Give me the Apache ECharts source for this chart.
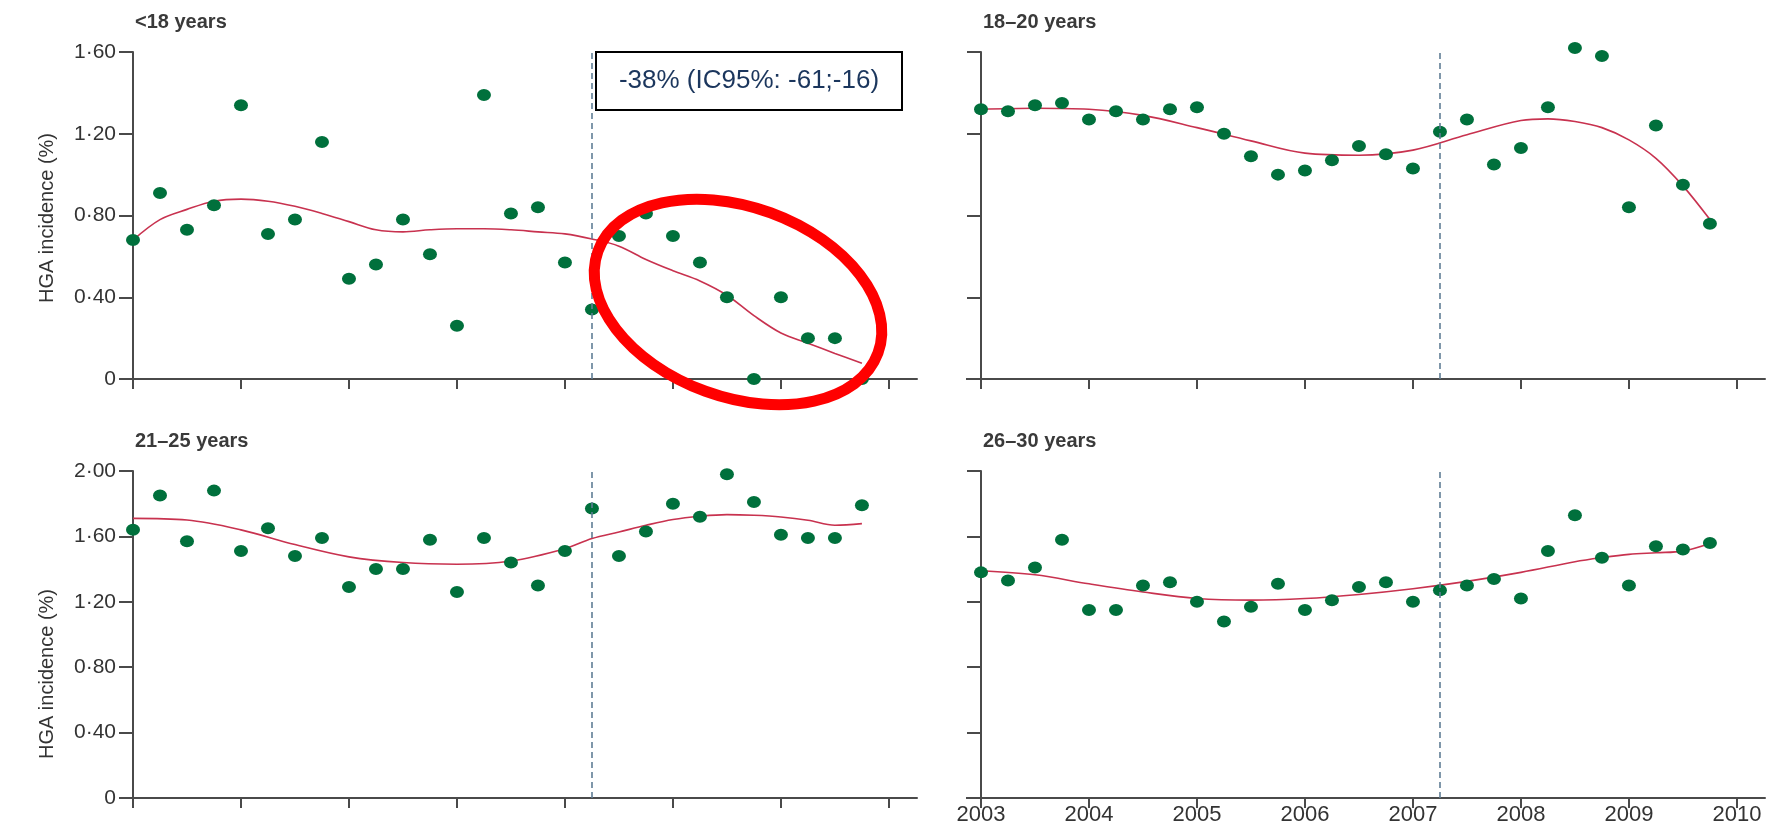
<!DOCTYPE html>
<html>
<head>
<meta charset="utf-8">
<script src="https://cdn.jsdelivr.net/npm/echarts@6/dist/echarts.min.js"></script>
<style>
html,body{margin:0;padding:0;background:#fff;}
#chart{width:1766px;height:828px;}
</style>
</head>
<body>
<div id="chart"></div>
<script>
// ---- Data ----
const quarters = [2003, 2003.25, 2003.5, 2003.75, 2004, 2004.25, 2004.5, 2004.75,
  2005, 2005.25, 2005.5, 2005.75, 2006, 2006.25, 2006.5, 2006.75,
  2007, 2007.25, 2007.5, 2007.75, 2008, 2008.25, 2008.5, 2008.75,
  2009, 2009.25, 2009.5, 2009.75];
const yearTicks = [2003, 2004, 2005, 2006, 2007, 2008, 2009, 2010];
const interventionX = 2007.25;

const panelTitles = ['<18 years', '18\u201320 years', '21\u201325 years', '26\u201330 years'];

const under18 = [0.68, 0.91, 0.73, 0.85, 1.34, 0.71, 0.78, 1.16, 0.49, 0.56, 0.78, 0.61, 0.26, 1.39,
  0.81, 0.84, 0.57, 0.34, 0.70, 0.81, 0.70, 0.57, 0.40, 0.00, 0.40, 0.20, 0.20, 0.00];
const age18to20 = [1.32, 1.31, 1.34, 1.35, 1.27, 1.31, 1.27, 1.32, 1.33, 1.20, 1.09, 1.00, 1.02, 1.07,
  1.14, 1.10, 1.03, 1.21, 1.27, 1.05, 1.13, 1.33, 1.62, 1.58, 0.84, 1.24, 0.95, 0.76];
const age21to25 = [1.64, 1.85, 1.57, 1.88, 1.51, 1.65, 1.48, 1.59, 1.29, 1.40, 1.40, 1.58, 1.26, 1.59,
  1.44, 1.30, 1.51, 1.77, 1.48, 1.63, 1.80, 1.72, 1.98, 1.81, 1.61, 1.59, 1.59, 1.79];
const age26to30 = [1.38, 1.33, 1.41, 1.58, 1.15, 1.15, 1.30, 1.32, 1.20, 1.08, 1.17, 1.31, 1.15, 1.21,
  1.29, 1.32, 1.20, 1.27, 1.30, 1.34, 1.22, 1.51, 1.73, 1.47, 1.30, 1.54, 1.52, 1.56];

// smoothed trend curves [year, value]
const trendUnder18 = [[2003,0.68],[2003.25,0.78],[2003.5,0.83],[2003.75,0.87],[2004,0.88],[2004.25,0.87],
  [2004.5,0.845],[2004.75,0.81],[2005,0.77],[2005.25,0.73],[2005.5,0.72],[2005.75,0.73],[2006,0.735],
  [2006.25,0.735],[2006.5,0.73],[2006.75,0.72],[2007,0.71],[2007.25,0.685],[2007.5,0.65],[2007.75,0.585],
  [2008,0.53],[2008.25,0.48],[2008.5,0.41],[2008.75,0.31],[2009,0.225],[2009.25,0.175],[2009.5,0.125],[2009.75,0.077]];
const trend18to20 = [[2003,1.32],[2003.5,1.325],[2004,1.32],[2004.5,1.29],[2005,1.23],[2005.5,1.165],
  [2006,1.105],[2006.5,1.095],[2007,1.12],[2007.5,1.195],[2008,1.265],[2008.25,1.273],[2008.5,1.26],
  [2008.75,1.23],[2009,1.17],[2009.25,1.08],[2009.5,0.945],[2009.75,0.78]];
const trend21to25 = [[2003,1.71],[2003.5,1.70],[2004,1.64],[2004.5,1.55],[2005,1.475],[2005.5,1.44],
  [2006,1.43],[2006.5,1.45],[2007,1.525],[2007.25,1.587],[2007.5,1.627],[2007.75,1.668],[2008,1.703],
  [2008.25,1.723],[2008.5,1.733],[2008.75,1.729],[2009,1.719],[2009.25,1.699],[2009.5,1.668],[2009.75,1.678]];
const trend26to30 = [[2003,1.39],[2003.5,1.365],[2004,1.31],[2004.5,1.26],[2005,1.22],[2005.5,1.21],
  [2006,1.22],[2006.5,1.245],[2007,1.28],[2007.5,1.325],[2008,1.38],[2008.5,1.445],[2008.75,1.47],
  [2009,1.49],[2009.25,1.50],[2009.5,1.51],[2009.75,1.556]];

const yMax = [1.6, 1.6, 2.0, 2.0];
const yInterval = 0.4;
const annotationText = '-38% (IC95%: -61;-16)';
const yAxisName = 'HGA incidence (%)';

// ---- Chart ----
const FONT = '"Liberation Sans", Arial, sans-serif';
const AXIS_COLOR = '#4a4a4a';
const TEXT_COLOR = '#333';
const DOT_COLOR = '#00703c';
const TREND_COLOR = '#c8324f';

const grids = [
  {left: 133, top: 52, width: 784, height: 327},
  {left: 981, top: 52, width: 784, height: 327},
  {left: 133, top: 471, width: 784, height: 327},
  {left: 981, top: 471, width: 784, height: 327}
];
const points = [under18, age18to20, age21to25, age26to30];
const trends = [trendUnder18, trend18to20, trend21to25, trend26to30];

const xAxes = grids.map((g, i) => ({
  type: 'value', gridIndex: i, min: 2003, max: 2010.26, interval: 1,
  splitLine: {show: false},
  axisLine: {show: true, lineStyle: {color: AXIS_COLOR, width: 2}},
  axisTick: {show: true, length: 10, customValues: yearTicks, lineStyle: {color: AXIS_COLOR, width: 2}},
  axisLabel: {show: i === 3, customValues: yearTicks, color: TEXT_COLOR, fontFamily: FONT, fontSize: 22, margin: 6,
    formatter: v => String(v)}
}));
const yAxes = grids.map((g, i) => ({
  type: 'value', gridIndex: i, min: 0, max: yMax[i], interval: yInterval,
  splitLine: {show: false},
  axisLine: {show: true, lineStyle: {color: AXIS_COLOR, width: 2}},
  axisTick: {show: true, length: 14, lineStyle: {color: AXIS_COLOR, width: 2}},
  axisLabel: {show: i % 2 === 0, color: TEXT_COLOR, fontFamily: FONT, fontSize: 21, margin: 17,
    formatter: v => v === 0 ? '0' : v.toFixed(2).replace('.', '\u00b7')}
}));

const series = [];
grids.forEach((g, i) => {
  series.push({
    type: 'line', xAxisIndex: i, yAxisIndex: i, data: trends[i], smooth: 0.35,
    showSymbol: false, silent: true, z: 3, clip: false,
    lineStyle: {color: TREND_COLOR, width: 1.6}
  });
  series.push({
    type: 'scatter', xAxisIndex: i, yAxisIndex: i, clip: false,
    data: quarters.map((q, k) => [q, points[i][k]]),
    symbol: 'circle', symbolSize: [14, 12], z: 4,
    itemStyle: {color: DOT_COLOR, opacity: 1},
    markLine: {
      silent: true, symbol: 'none', label: {show: false},
      lineStyle: {type: [6, 4], color: '#5f7d95', width: 1.6},
      data: [{xAxis: interventionX}]
    }
  });
});

const titles = panelTitles.map((t, i) => ({
  text: t, left: grids[i].left - 3, top: grids[i].top - 45,
  textStyle: {fontFamily: FONT, fontWeight: 'bold', fontSize: 20, color: '#3a3a3a'}
}));

const yNameCenters = [218, 674];
const yNameTexts = yNameCenters.map(cy => ({
  type: 'text', x: 47, y: cy, rotation: Math.PI / 2, z: 10,
  style: {text: yAxisName, fill: TEXT_COLOR, font: '20px "Liberation Sans", Arial, sans-serif',
    textAlign: 'center', textVerticalAlign: 'middle'}
}));
const axisStubs = [1, 3].map(i => ({
  type: 'line', z: 5,
  shape: {x1: grids[i].left - 15, y1: grids[i].top + grids[i].height, x2: grids[i].left, y2: grids[i].top + grids[i].height},
  style: {stroke: AXIS_COLOR, lineWidth: 2}
}));

const chart = echarts.init(document.getElementById('chart'), null, {renderer: 'canvas'});
chart.setOption({
  animation: false,
  backgroundColor: '#fff',
  title: titles,
  grid: grids,
  xAxis: xAxes,
  yAxis: yAxes,
  series: series,
  graphic: yNameTexts.concat(axisStubs).concat([
    {type: 'group', left: 595, top: 51, z: 50, children: [
      {type: 'rect', shape: {x: 0, y: 0, width: 306, height: 58},
        style: {fill: '#fff', stroke: '#000', lineWidth: 2}},
      {type: 'text', x: 153, y: 29, style: {text: annotationText, fill: '#1b365d',
        font: '26px "Liberation Sans", Arial, sans-serif', textAlign: 'center', textVerticalAlign: 'middle'}}
    ]},
    {type: 'ellipse', x: 738, y: 302, rotation: -20 * Math.PI / 180, z: 60,
      shape: {cx: 0, cy: 0, rx: 149, ry: 95},
      style: {fill: 'none', stroke: '#ff0000', lineWidth: 11}}
  ])
});
</script>
</body>
</html>
